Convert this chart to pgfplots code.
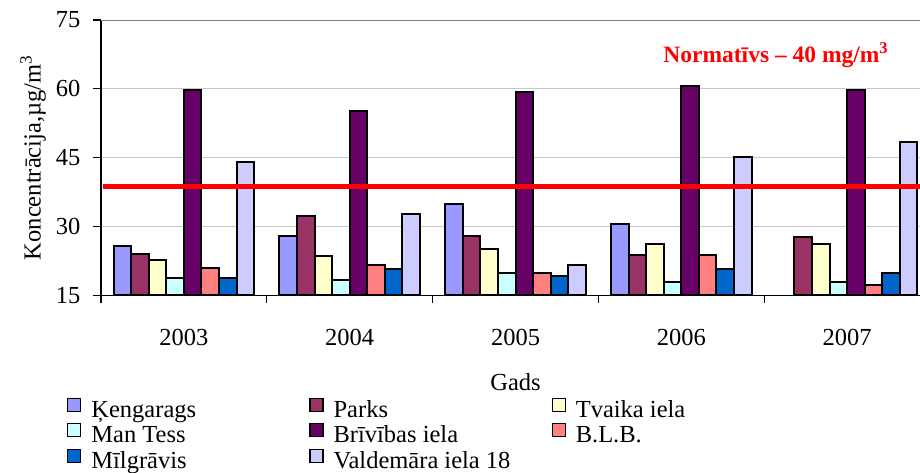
\documentclass[border=0pt]{standalone}
\usepackage{fontspec}
\setmainfont{Liberation Serif}
\usepackage{pgfplots}
\pgfplotsset{compat=1.18}
\definecolor{cK}{HTML}{9999FF}
\definecolor{cP}{HTML}{993366}
\definecolor{cT}{HTML}{FFFFCC}
\definecolor{cM}{HTML}{CCFFFF}
\definecolor{cB}{HTML}{660066}
\definecolor{cL}{HTML}{FF8080}
\definecolor{cG}{HTML}{0066CC}
\definecolor{cV}{HTML}{CCCCFF}
\newcommand\f{\fontsize{24.5}{29}\selectfont}
\begin{document}
\begin{tikzpicture}
\begin{axis}[
  scale only axis,
  width=829pt, height=275.3pt,
  xmin=-0.5, xmax=4.5, ymin=15, ymax=75,
  enlargelimits=false,
  axis x line*=bottom, axis y line*=left,
  axis line style={black, line width=1.5pt},
  ytick={15,30,45,60,75},
  ymajorgrids, grid style={color=black!22, line width=1pt},
  xtick={-0.5,0.5,1.5,2.5,3.5,4.5}, xticklabels={},
  extra x ticks={0,1,2,3,4},
  extra x tick labels={2003,2004,2005,2006,2007},
  extra x tick style={major tick length=0pt, grid=none},
  tick align=outside, major tick length=8pt,
  tick style={black, line width=1.2pt},
  /pgf/number format/assume math mode=true,
  tick label style={font=\f},
  xticklabel style={anchor=base, yshift=-50pt},
  yticklabel style={anchor=east, xshift=-9pt},
  xlabel={Gads}, ylabel={Koncentrācija,µg/m\textsuperscript{3}},
  every axis x label/.style={at={(rel axis cs:0.5,0)}, yshift=-87pt, anchor=center, font=\f},
  every axis y label/.style={at={(rel axis cs:0,0.5)}, xshift=-68pt, rotate=90, anchor=center, font=\f},
  legend columns=3,
  legend cell align=left,
  legend image code/.code={\draw[#1, line width=1.2pt] (0pt,0pt) rectangle (13pt,13pt);},
  legend style={draw=none, fill=none, font=\f, at={(rel axis cs:0,0)}, anchor=north west,
    xshift=-34pt, yshift=-102pt, inner sep=0pt, row sep=0pt,
    nodes={inner sep=0pt, text height=18pt, text depth=6pt},
    /tikz/every odd column/.append style={column sep=10pt},
    /tikz/every even column/.append style={column sep=0pt}},
]
\pgfplotsset{every axis plot/.append style={ybar, bar width=0.106, draw=black, line width=2pt}}
\addplot[fill=cK, bar shift=-0.371] coordinates {(0,25.7) (1,28.0) (2,35.0) (3,30.6)};
\addlegendentry{\makebox[218pt][l]{Ķengarags}}
\addplot[fill=cP, bar shift=-0.265] coordinates {(0,24.1) (1,32.3) (2,28.0) (3,23.7) (4,27.6)};
\addlegendentry{\makebox[218pt][l]{Parks}}
\addplot[fill=cT, bar shift=-0.159] coordinates {(0,22.8) (1,23.6) (2,25.0) (3,26.2) (4,26.2)};
\addlegendentry{\makebox[150pt][l]{Tvaika iela}}
\addplot[fill=cM, bar shift=-0.053] coordinates {(0,18.8) (1,18.3) (2,19.8) (3,17.9) (4,17.9)};
\addlegendentry{\makebox[218pt][l]{Man Tess}}
\addplot[fill=cB, bar shift=0.053] coordinates {(0,59.8) (1,55.1) (2,59.4) (3,60.6) (4,59.8)};
\addlegendentry{\makebox[218pt][l]{Brīvības iela}}
\addplot[fill=cL, bar shift=0.159] coordinates {(0,21.0) (1,21.5) (2,19.8) (3,23.7) (4,17.2)};
\addlegendentry{\makebox[150pt][l]{B.L.B.}}
\addplot[fill=cG, bar shift=0.265] coordinates {(0,18.8) (1,20.7) (2,19.2) (3,20.7) (4,19.8)};
\addlegendentry{\makebox[218pt][l]{Mīlgrāvis}}
\addplot[fill=cV, bar shift=0.371] coordinates {(0,44.0) (1,32.8) (2,21.5) (3,45.1) (4,48.5)};
\addlegendentry{\makebox[218pt][l]{Valdemāra iela 18}}
\addplot[forget plot, sharp plot, draw=red, line width=4.7pt] coordinates {(-0.488,38.75) (4.5,38.75)};
\draw[color=black!50, line width=1.5pt] (rel axis cs:0,1) -- (rel axis cs:1,1);
\node[text=red, font=\fontsize{23.5}{28}\selectfont\bfseries] at (axis cs:3.57,67.4) {Normatīvs – 40 mg/m\textsuperscript{3}};
\coordinate (O) at (rel axis cs:0,0);
\end{axis}
\pgfresetboundingbox
\useasboundingbox ([shift={(-101pt,-176.7pt)}]O) rectangle ([shift={(819pt,295.3pt)}]O);
\end{tikzpicture}
\end{document}
